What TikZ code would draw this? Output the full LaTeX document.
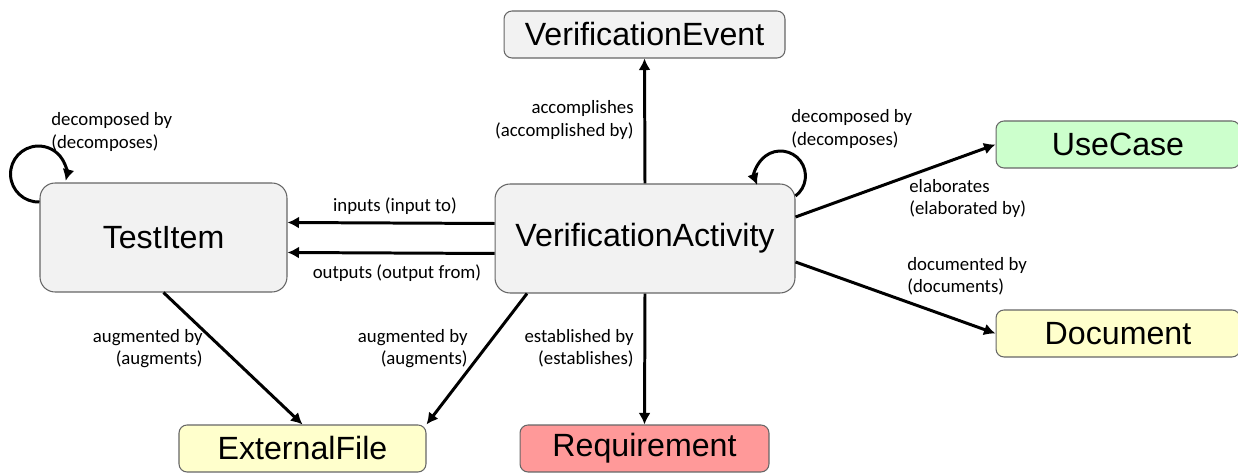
\documentclass[tikz,border=0pt]{standalone}
\usepackage{fontspec}
\setmainfont{Liberation Sans}
\newfontfamily\lblfont{Carlito}
\usetikzlibrary{arrows.meta}
\definecolor{boxgray}{HTML}{F2F2F2}
\definecolor{boxline}{HTML}{666666}
\definecolor{ucgreen}{HTML}{CCFFCC}
\definecolor{fileyellow}{HTML}{FFFFCC}
\definecolor{reqred}{HTML}{FF9999}
\begin{document}
\begin{tikzpicture}[x=0.02cm, y=0.02cm, >={Latex[length=2.3mm,width=2.4mm]},
    cls/.style={draw=boxline, line width=0.6pt, inner sep=0pt,
      font=\fontsize{18.3}{21}\selectfont},
    bigbox/.style={cls, fill=boxgray, rounded corners=0.3cm, minimum height=2.18cm},
    smallbox/.style={cls, rounded corners=0.16cm, minimum height=0.94cm},
    rel/.style={line width=1.7pt, ->},
    lbl/.style={font=\lblfont\fontsize{10.7}{12.6}\selectfont, inner sep=0pt}]
  \useasboundingbox (0,0) rectangle (1238,473);

  % Clases
  \node[bigbox, minimum width=4.94cm] (ti) at (163.5,235.5) {TestItem};
  \node[bigbox, minimum width=6cm] (va) at (645,234.5) {VerificationActivity};
  \node[smallbox, fill=boxgray, minimum width=5.62cm] (ve) at (644.5,438.5) {VerificationEvent};
  \node[smallbox, fill=ucgreen, minimum width=4.88cm] (uc) at (1118,328.5) {UseCase};
  \node[smallbox, fill=fileyellow, minimum width=4.88cm] (doc) at (1118,139.5) {Document};
  \node[smallbox, fill=fileyellow, minimum width=4.94cm] (ef) at (302.5,24.5) {ExternalFile};
  \node[smallbox, fill=reqred, minimum width=4.98cm] (req) at (644.5,24.5) {Requirement};

  % Relaciones
  \draw[rel] (va.north) -- (ve.south);
  \draw[rel] ([yshift=0.3cm]va.west) -- ([yshift=0.3cm]ti.east);
  \draw[rel] ([yshift=-0.3cm]va.west) -- ([yshift=-0.3cm]ti.east);
  \draw[rel] ([yshift=0.43cm]va.east) -- (uc.west);
  \draw[rel] ([yshift=-0.47cm]va.east) -- (doc.west);
  \draw[rel] (ti.south) -- (ef.north);
  \draw[rel] ([xshift=-2.36cm]va.south) -- (ef.north east);
  \draw[rel] (va.south) -- (req.north);

  % Bucles
  \draw[rel] ([yshift=0.71cm]ti.west) arc[start angle=-88, end angle=-374, radius=0.56cm];
  \draw[rel] ([yshift=-0.25cm]va.north east) arc[start angle=-53, end angle=201, radius=0.5cm];

  % Etiquetas
  \node[lbl, anchor=east, align=right] (l-ve) at (634,353) {accomplishes\\(accomplished by)};
  \node[lbl, anchor=west, align=left] (l-tiloop) at (51,341) {decomposed by\\(decomposes)};
  \node[lbl] (l-in) at (395,267) {inputs (input to)};
  \node[lbl] (l-out) at (397,200) {outputs (output from)};
  \node[lbl, anchor=west, align=left] (l-valoop) at (791,344) {decomposed by\\(decomposes)};
  \node[lbl, anchor=west, align=left] (l-uc) at (909,274.5) {elaborates\\(elaborated by)};
  \node[lbl, anchor=west, align=left] (l-doc) at (907,197) {documented by\\(documents)};
  \node[lbl, anchor=east, align=right] (l-tief) at (203,124.5) {augmented by\\(augments)};
  \node[lbl, anchor=east, align=right] (l-vaef) at (468,124.5) {augmented by\\(augments)};
  \node[lbl, anchor=east, align=right] (l-req) at (634,124.5) {established by\\(establishes)};
\end{tikzpicture}
\end{document}
